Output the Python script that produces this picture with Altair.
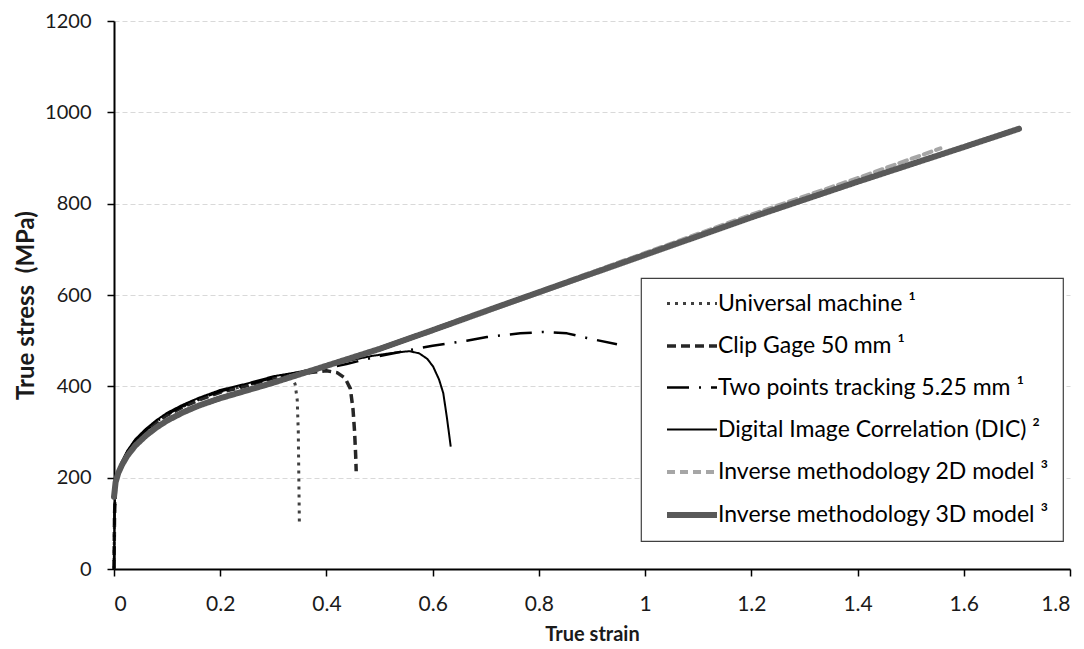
import altair as alt
import pandas as pd

# ---------------- data ----------------
series_names = [
    "Universal machine ¹",
    "Clip Gage 50 mm ¹",
    "Two points tracking 5.25 mm ¹",
    "Digital Image Correlation (DIC) ²",
    "Inverse methodology 2D model ³",
    "Inverse methodology 3D model ³",
]

um_x = [0, 0.001, 0.003, 0.008, 0.015, 0.025, 0.04, 0.06, 0.08, 0.1, 0.13, 0.16, 0.2, 0.25, 0.3, 0.325, 0.335, 0.341, 0.345, 0.347, 0.348, 0.349]
um_y = [0, 120, 185, 212, 232, 255, 280, 303, 322, 338, 356, 371, 388, 402, 418, 423, 420, 405, 370, 300, 200, 103]

cg_x = [0, 0.001, 0.003, 0.008, 0.015, 0.025, 0.04, 0.06, 0.08, 0.1, 0.13, 0.16, 0.2, 0.25, 0.3, 0.34, 0.37, 0.40, 0.42, 0.435, 0.445, 0.45, 0.453, 0.455, 0.456]
cg_y = [0, 118, 183, 211, 231, 254, 279, 302, 321, 337, 355, 370, 387, 401, 418, 425, 430, 434, 430, 418, 395, 350, 300, 250, 214]

tp_x = [0, 0.001, 0.003, 0.008, 0.015, 0.025, 0.04, 0.06, 0.08, 0.1, 0.13, 0.16, 0.2, 0.25, 0.3, 0.35, 0.4, 0.438, 0.495, 0.55, 0.6, 0.664, 0.702, 0.765, 0.808, 0.853, 0.89, 0.947]
tp_y = [0, 122, 186, 213, 233, 256, 281, 304, 323, 339, 357, 372, 389, 403, 419, 430, 440, 449, 465, 478, 489, 500, 508, 516, 519, 516, 506, 492]

dic_x = [0, 0.001, 0.003, 0.008, 0.015, 0.025, 0.04, 0.06, 0.08, 0.1, 0.13, 0.16, 0.2, 0.25, 0.3, 0.35, 0.4, 0.45, 0.488, 0.53, 0.557, 0.575, 0.59, 0.601, 0.612, 0.62, 0.627, 0.634]
dic_y = [0, 125, 190, 216, 236, 259, 284, 307, 326, 342, 360, 375, 392, 406, 422, 432, 445, 458, 467, 474, 477, 472, 460, 443, 415, 385, 330, 268]

m2d_x = [0, 0.003, 0.008, 0.015, 0.025, 0.04, 0.06, 0.08, 0.1, 0.13, 0.16, 0.2, 0.25, 0.3, 0.4, 0.5, 0.6, 0.727, 0.8, 1.0, 1.2, 1.4, 1.556]
m2d_y = [165, 192, 211, 229, 249, 271, 293, 311, 326, 344, 359, 375, 392, 409, 446, 483, 524, 578, 608, 692, 776, 856, 921]

m3d_x = [0, 0.003, 0.008, 0.015, 0.025, 0.04, 0.06, 0.08, 0.1, 0.13, 0.16, 0.2, 0.25, 0.3, 0.4, 0.5, 0.6, 0.727, 0.8, 1.0, 1.2, 1.4, 1.6, 1.704]
m3d_y = [158, 190, 210, 228, 248, 270, 292, 310, 325, 343, 358, 374, 391, 408, 445, 482, 523, 576, 606, 688, 770, 848, 924, 964]

x_ticks = [0, 0.2, 0.4, 0.6, 0.8, 1, 1.2, 1.4, 1.6, 1.8]
y_ticks = [0, 200, 400, 600, 800, 1000, 1200]

# ---------------- styles ----------------
colors = ["#404040", "#262626", "#000000", "#000000", "#a6a6a6", "#595959"]
dashes = [[3, 5], [9, 5], [22, 10, 2, 10], [1, 0], [8, 5], [1, 0]]
widths = [3, 3.5, 2.5, 2, 4, 6]

all_series = [(um_x, um_y), (cg_x, cg_y), (tp_x, tp_y), (dic_x, dic_y), (m2d_x, m2d_y), (m3d_x, m3d_y)]
rows = []
for name, (xs, ys) in zip(series_names, all_series):
    for i, (xv, yv) in enumerate(zip(xs, ys)):
        rows.append({"series": name, "strain": xv, "stress": yv, "i": i})
df = pd.DataFrame(rows)

FONT = "Lato"

legend = alt.Legend(
    title=None,
    orient="none",
    legendX=527,
    legendY=257,
    symbolType="M-2.5,0H2.5",
    symbolSize=400,
    symbolOffset=24,
    labelOffset=13,
    labelFont=FONT,
    labelFontSize=23,
    labelColor="black",
    labelLimit=500,
    rowPadding=18,
    padding=14,
    strokeColor="#404040",
    fillColor="white",
)

color_scale = alt.Scale(domain=series_names, range=colors)
dash_scale = alt.Scale(domain=series_names, range=dashes)
width_scale = alt.Scale(type="ordinal", domain=series_names, range=widths)

xenc = alt.X(
    "strain:Q",
    scale=alt.Scale(domain=[0, 1.8], nice=False),
    axis=alt.Axis(values=x_ticks, title="True strain", grid=False, format="~g"),
)
yenc = alt.Y(
    "stress:Q",
    scale=alt.Scale(domain=[0, 1200], nice=False),
    axis=alt.Axis(values=y_ticks, title="True stress\u00a0\u00a0(MPa)", grid=True, format="d", titleY=284),
)

base = alt.Chart(df)
layers = []
for k, name in enumerate(series_names):
    cap = "round" if k in (4, 5) else "butt"
    layer = (
        base.transform_filter(alt.datum.series == name)
        .mark_line(strokeCap=cap, strokeJoin="round")
        .encode(
            x=xenc,
            y=yenc,
            color=alt.Color("series:N", scale=color_scale, legend=legend),
            strokeDash=alt.StrokeDash("series:N", scale=dash_scale, legend=legend),
            strokeWidth=alt.StrokeWidth("series:N", scale=width_scale, legend=legend),
            order=alt.Order("i:Q"),
        )
    )
    layers.append(layer)

chart = (
    alt.layer(*layers)
    .properties(
        width=956,
        height=548,
        autosize=alt.AutoSizeParams(type="none"),
        padding={"left": 106, "top": 13, "right": 6, "bottom": 76},
    )
    .configure_view(stroke=None)
    .configure_axis(
        labelFont=FONT,
        labelColor="#1a1a1a",
        titleFont=FONT,
        titleFontWeight="bold",
        titleColor="#1a1a1a",
        domainColor="black",
        domainWidth=2,
        tickColor="black",
        tickWidth=1.5,
        tickSize=7,
        gridColor="#d9d9d9",
        gridDash=[5, 3],
        gridWidth=1,
    )
    .configure_axisX(labelPadding=17, titlePadding=10, titleFontSize=20, labelFontSize=21)
    .configure_axisY(labelPadding=16, titlePadding=6, titleFontSize=24, labelFontSize=20)
    .configure_legend(strokeWidth=1.2)
)

chart.save("out.html", embed_options={"renderer": "svg", "actions": False})
